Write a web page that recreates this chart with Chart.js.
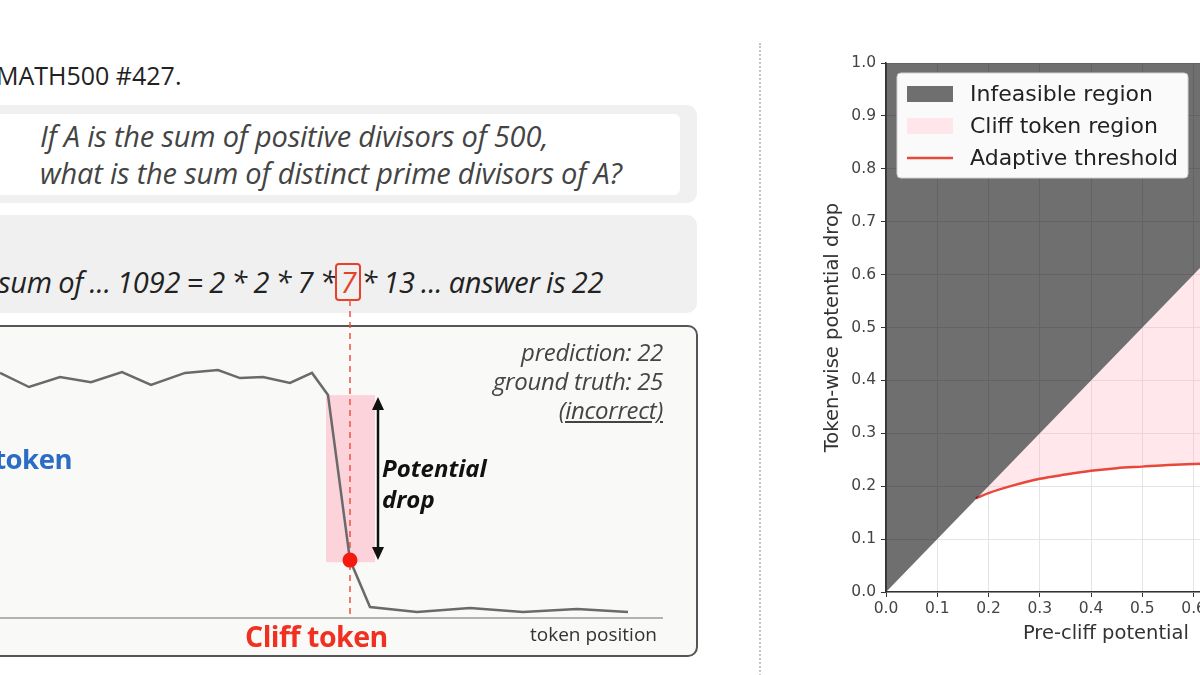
<!DOCTYPE html>
<html>
<head>
<meta charset="utf-8">
<script src="https://cdn.jsdelivr.net/npm/chart.js@4.4.1/dist/chart.umd.min.js"></script>
<style>
html, body { margin: 0; padding: 0; width: 1200px; height: 675px; overflow: hidden; background: #fff; }
body { position: relative; font-family: "Open Sans", sans-serif; }
.abs { position: absolute; white-space: nowrap; }
.box { position: absolute; box-sizing: border-box; }
#title { left: -4px; top: 59px; font-size: 25px; line-height: 32px; color: #222; }
#q { left: 40px; top: 117px; font-size: 29px; line-height: 37px; font-style: italic; color: #444; letter-spacing: -0.2px; }
#ans { left: -2px; top: 263px; font-size: 29px; line-height: 38px; font-style: italic; color: #222; letter-spacing: -0.2px; word-spacing: -1px; }
#ans .hl { display: inline-block; border: 2px solid #e8402a; border-radius: 4px; color: #e8402a; padding: 0 3px; line-height: 34px; }
.pred { right: 537px; font-size: 24px; line-height: 29px; font-style: italic; color: #444; text-align: right; letter-spacing: -0.3px; }
#drop { left: 382px; top: 452px; font-size: 24px; line-height: 31px; font-style: italic; font-weight: 700; color: #111; white-space: normal; }
#cliff { left: 245px; top: 618px; font-size: 28.5px; line-height: 36px; font-weight: 700; color: #f03020; letter-spacing: -0.5px; }
#anchor { right: 1128px; top: 441px; font-size: 27.5px; line-height: 36px; font-weight: 700; color: #2b6cc4; letter-spacing: -0.5px; }
#tokpos { right: 543px; top: 621px; font-size: 19px; line-height: 26px; color: #333; }
#sep { position: absolute; left: 759px; top: 43px; height: 640px; border-left: 2px dotted #c4c4c4; }
#leftWrap { position: absolute; left: 0; top: 290px; width: 663px; height: 330px; }
#rightWrap { position: absolute; left: 800px; top: 40px; width: 614px; height: 635px; }
</style>
</head>
<body>
<div class="box" style="left:-20px;top:105px;width:717px;height:98px;background:#f0f0f0;border-radius:10px;"></div>
<div class="box" style="left:-20px;top:114px;width:700px;height:81px;background:#fff;border-radius:6px;"></div>
<div class="box" style="left:-20px;top:215px;width:717px;height:98px;background:#f0f0f0;border-radius:10px;"></div>
<div class="box" style="left:-20px;top:325px;width:718px;height:332px;background:#f9f9f7;border:2px solid #555;border-radius:10px;"></div>

<div id="title" class="abs">MATH500 #427.</div>
<div id="q" class="abs">If A is the sum of positive divisors of 500,<br>what is the sum of distinct prime divisors of A?</div>
<div id="ans" class="abs">sum of ... 1092 = 2 * 2 * 7 *<span class="hl">7</span>* 13 ... answer is 22</div>

<div id="leftWrap"><canvas id="tokenChart"></canvas></div>

<div class="abs pred" style="top:337px;">prediction: 22</div>
<div class="abs pred" style="top:366px;">ground truth: 25</div>
<div class="abs pred" style="top:395px;text-decoration:underline;">(incorrect)</div>
<div id="drop" class="abs">Potential<br>drop</div>
<div id="anchor" class="abs">token</div>
<div id="cliff" class="abs">Cliff token</div>
<div id="tokpos" class="abs">token position</div>

<div id="sep"></div>

<div id="rightWrap"><canvas id="regionChart"></canvas></div>

<script>
// left panel: potential along the generated answer
const tokenPos = [0, 2.9, 6.0, 9.1, 12.2, 15.1, 18.5, 21.8, 24.0, 26.3, 29.0, 31.2, 32.8, 35.0, 37.0, 41.7, 47.0, 52.3, 57.7, 62.8];
const potential = [0.851, 0.802, 0.837, 0.819, 0.854, 0.809, 0.851, 0.861, 0.833, 0.837, 0.816, 0.851, 0.774, 0.201, 0.038, 0.021, 0.035, 0.021, 0.031, 0.021];
const cliffIdx = 13;
const preCliffIdx = 12;

// right panel: regions and threshold
const diagX = [0, 1];
const threshX = [0.175, 0.2, 0.25, 0.3, 0.35, 0.4, 0.45, 0.5, 0.55, 0.6, 0.7, 0.8, 0.9, 1.0];
const threshY = [0.177, 0.187, 0.202, 0.214, 0.222, 0.229, 0.234, 0.237, 0.240, 0.242, 0.244, 0.244, 0.242, 0.240];
const xTicks = [0, 0.1, 0.2, 0.3, 0.4, 0.5, 0.6, 0.7, 0.8, 0.9, 1.0];

const cliffDecor = {
    id: 'cliffDecor',
    beforeDatasetsDraw(chart) {
        const { ctx, chartArea } = chart;
        const xs = chart.scales.x, ys = chart.scales.y;
        const cx = xs.getPixelForValue(tokenPos[cliffIdx]);
        ctx.save();
        // pink band showing the drop
        ctx.fillStyle = 'rgba(255, 190, 205, 0.65)';
        const x0 = xs.getPixelForValue(tokenPos[cliffIdx] - 2.4);
        const x1 = xs.getPixelForValue(tokenPos[cliffIdx] + 2.5);
        const yTop = ys.getPixelForValue(potential[preCliffIdx]);
        const yBot = ys.getPixelForValue(potential[cliffIdx]) + 2;
        ctx.fillRect(x0, yTop, x1 - x0, yBot - yTop);
        // axis line
        ctx.strokeStyle = '#9a9a9a';
        ctx.lineWidth = 1.5;
        ctx.beginPath();
        ctx.moveTo(chartArea.left, chartArea.bottom);
        ctx.lineTo(chartArea.right, chartArea.bottom);
        ctx.stroke();
        // dashed marker from the highlighted token
        ctx.strokeStyle = '#f05040';
        ctx.lineWidth = 1.5;
        ctx.setLineDash([6, 5]);
        ctx.beginPath();
        ctx.moveTo(cx, 10);
        ctx.lineTo(cx, chartArea.bottom);
        ctx.stroke();
        ctx.restore();
    },
    afterDatasetsDraw(chart) {
        const { ctx } = chart;
        const xs = chart.scales.x, ys = chart.scales.y;
        const ax = xs.getPixelForValue(tokenPos[cliffIdx] + 2.8);
        const a0 = ys.getPixelForValue(potential[preCliffIdx]) + 2;
        const a1 = ys.getPixelForValue(potential[cliffIdx]);
        ctx.save();
        ctx.strokeStyle = '#111';
        ctx.fillStyle = '#111';
        ctx.lineWidth = 2.5;
        ctx.beginPath();
        ctx.moveTo(ax, a0 + 8);
        ctx.lineTo(ax, a1 - 8);
        ctx.stroke();
        ctx.beginPath();
        ctx.moveTo(ax, a0); ctx.lineTo(ax - 6, a0 + 13); ctx.lineTo(ax + 6, a0 + 13); ctx.closePath();
        ctx.fill();
        ctx.beginPath();
        ctx.moveTo(ax, a1); ctx.lineTo(ax - 6, a1 - 13); ctx.lineTo(ax + 6, a1 - 13); ctx.closePath();
        ctx.fill();
        ctx.restore();
    }
};

new Chart(document.getElementById('tokenChart'), {
    type: 'line',
    data: {
        datasets: [
            {
                label: 'cliff',
                data: [{ x: tokenPos[cliffIdx], y: potential[cliffIdx] }],
                pointRadius: 7.5,
                pointBackgroundColor: '#f41a10',
                pointBorderWidth: 0,
                showLine: false
            },
            {
                label: 'potential',
                data: tokenPos.map((x, i) => ({ x: x, y: potential[i] })),
                borderColor: '#6a6a6a',
                borderWidth: 2.5,
                pointRadius: 0,
                tension: 0
            }
        ]
    },
    options: {
        responsive: true,
        maintainAspectRatio: false,
        animation: false,
        layout: { autoPadding: false, padding: { top: 40, bottom: 2, left: 0, right: 0 } },
        plugins: { legend: { display: false }, tooltip: { enabled: false } },
        scales: {
            x: { type: 'linear', min: 0, max: 66.3, display: false },
            y: { min: 0, max: 1, display: false }
        }
    },
    plugins: [cliffDecor]
});

const legendBox = {
    id: 'legendBox',
    afterDraw(chart) {
        const { ctx, chartArea } = chart;
        const lx = chartArea.left + 11, ly = chartArea.top + 10, w = 291, h = 105;
        ctx.save();
        ctx.fillStyle = 'rgba(255,255,255,0.97)';
        ctx.strokeStyle = '#d0d0d0';
        ctx.lineWidth = 1;
        ctx.beginPath();
        ctx.roundRect(lx, ly, w, h, 4);
        ctx.fill();
        ctx.stroke();
        const items = [
            { text: 'Infeasible region', kind: 'patch', color: '#6f6f6f' },
            { text: 'Cliff token region', kind: 'patch', color: '#ffe6ea' },
            { text: 'Adaptive threshold', kind: 'line', color: '#e8483a' }
        ];
        ctx.font = '22px "DejaVu Sans"';
        ctx.textBaseline = 'middle';
        items.forEach((it, i) => {
            const cy = ly + 21 + i * 32;
            if (it.kind === 'patch') {
                ctx.fillStyle = it.color;
                ctx.fillRect(lx + 10, cy - 8, 46, 16);
            } else {
                ctx.strokeStyle = it.color;
                ctx.lineWidth = 2.5;
                ctx.beginPath();
                ctx.moveTo(lx + 10, cy);
                ctx.lineTo(lx + 56, cy);
                ctx.stroke();
            }
            ctx.fillStyle = '#222';
            ctx.fillText(it.text, lx + 73, cy + 1);
        });
        ctx.restore();
    }
};

new Chart(document.getElementById('regionChart'), {
    type: 'line',
    data: {
        datasets: [
            {
                label: 'Infeasible region',
                data: diagX.map(x => ({ x: x, y: x })),
                borderWidth: 0,
                pointRadius: 0,
                fill: 'end',
                backgroundColor: 'rgba(0,0,0,0.565)'
            },
            {
                label: 'upper edge',
                data: threshX.map(x => ({ x: x, y: x })),
                borderWidth: 0,
                pointRadius: 0,
                fill: false
            },
            {
                label: 'Adaptive threshold',
                data: threshX.map((x, i) => ({ x: x, y: threshY[i] })),
                borderColor: '#e8483a',
                borderWidth: 2.5,
                pointRadius: 0,
                cubicInterpolationMode: 'monotone',
                fill: { target: 1 },
                backgroundColor: 'rgba(255,180,192,0.32)'
            }
        ]
    },
    options: {
        responsive: true,
        maintainAspectRatio: false,
        animation: false,
        layout: { autoPadding: false, padding: { top: 23, right: 0, left: 0, bottom: 0 } },
        plugins: { legend: { display: false }, tooltip: { enabled: false } },
        scales: {
            x: {
                type: 'linear', min: 0, max: 1,
                afterBuildTicks(s) { s.ticks = xTicks.map(v => ({ value: v })); },
                afterFit(s) { s.height = 83; },
                ticks: { font: { family: 'DejaVu Sans', size: 15.5 }, color: '#444', padding: 3, callback: v => v.toFixed(1) },
                grid: { color: '#e4e4e4', tickColor: '#333', tickLength: 5 },
                border: { color: '#333', width: 1.5 },
                title: { display: true, text: 'Pre-cliff potential  (Vpre)', font: { family: 'DejaVu Sans', size: 19.5 }, color: '#333', padding: { top: 4, bottom: 29 } }
            },
            y: {
                min: 0, max: 1,
                afterBuildTicks(s) { s.ticks = xTicks.map(v => ({ value: v })); },
                afterFit(s) { s.width = 86; },
                ticks: { font: { family: 'DejaVu Sans', size: 15.5 }, color: '#444', padding: 5, callback: v => v.toFixed(1) },
                grid: { color: '#e4e4e4', tickColor: '#333', tickLength: 5 },
                border: { color: '#333', width: 1.5 },
                title: { display: true, text: 'Token-wise potential drop', font: { family: 'DejaVu Sans', size: 19.5 }, color: '#333', padding: { top: 21, bottom: 0 } }
            }
        }
    },
    plugins: [legendBox]
});
</script>
</body>
</html>
